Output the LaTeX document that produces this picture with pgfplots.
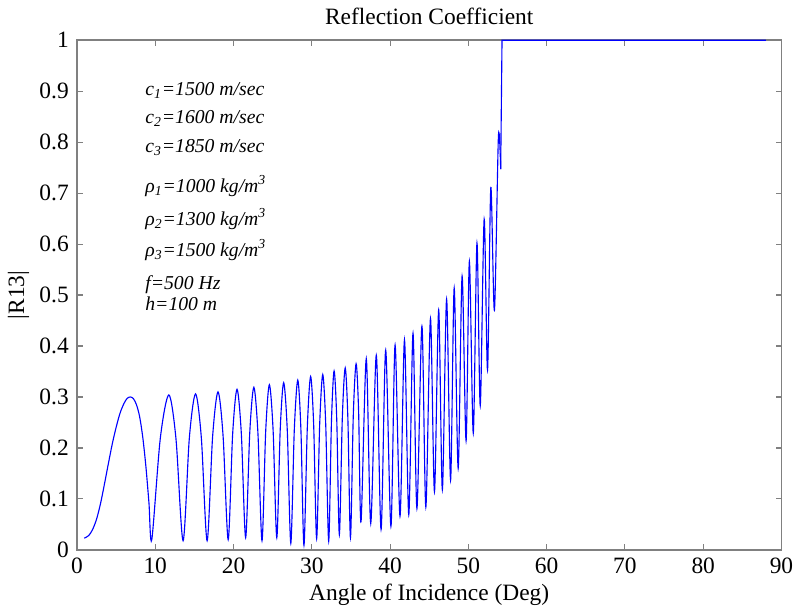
\documentclass[border=0pt]{standalone}
\usepackage{fontspec}
\setmainfont{Liberation Serif}
\usepackage{pgfplots}
\pgfplotsset{compat=1.18}

\definecolor{axgray}{gray}{0.5}

\begin{document}
\fontsize{12.5}{15}\selectfont
\begin{tikzpicture}
\begin{axis}[
  scale only axis,
  width=376pt, height=272pt,
  xmin=0, xmax=90, ymin=0, ymax=1,
  xtick={0,10,20,30,40,50,60,70,80,90},
  ytick={0,0.1,0.2,0.3,0.4,0.5,0.6,0.7,0.8,0.9,1},
  yticklabel style={/pgf/number format/fixed, /pgf/number format/precision=1},
  /pgf/number format/assume math mode=true,
  tick align=inside,
  major tick length=3pt,
  axis line style={draw=axgray, line width=0.8pt},
  major tick style={draw=axgray, line width=0.6pt},
  ticklabel style={font=\fontsize{12.5}{15}\selectfont},
  title={Reflection Coefficient},
  title style={yshift=-2pt},
  xlabel={Angle of Incidence (Deg)},
  xlabel style={yshift=3pt},
  ylabel={|R13|},
  ylabel style={yshift=-3pt},
  clip=false,
]
% oscillating part
\addplot[blue, line width=0.6pt, smooth, tension=0.5] coordinates {
(0.93,0.023) (1.50,0.028) (2.00,0.040) (2.50,0.060) (3.00,0.090)
(3.50,0.128) (4.00,0.168) (4.50,0.207) (5.00,0.240) (5.50,0.268)
(6.00,0.287) (6.40,0.297) (6.80,0.300) (7.20,0.297) (7.60,0.285)
(8.00,0.262) (8.40,0.222) (8.80,0.165) (9.20,0.092) (9.56,0.020)
(10.65,0.219) (11.74,0.304) (12.65,0.218) (13.56,0.018)
(14.36,0.220) (15.15,0.306) (15.89,0.220) (16.63,0.018)
(17.33,0.222) (18.02,0.310) (18.67,0.223) (19.32,0.020)
(19.89,0.227) (20.45,0.315) (21.00,0.228) (21.55,0.024)
(22.08,0.231) (22.60,0.319) (23.12,0.229) (23.64,0.018)
(24.11,0.232) (24.58,0.324) (25.06,0.234) (25.53,0.024)
(25.97,0.237) (26.41,0.328) (26.87,0.234) (27.32,0.013)
(27.77,0.237) (28.21,0.333) (28.61,0.236) (29.00,0.009)
(29.43,0.241) (29.85,0.340) (30.24,0.245) (30.62,0.022)
(31.01,0.247) (31.40,0.344) (31.78,0.246) (32.16,0.017)
(32.51,0.251) (32.85,0.351) (33.19,0.255) (33.52,0.030)
(33.90,0.259) (34.27,0.357) (34.61,0.257) (34.94,0.024)
(35.30,0.263) (35.66,0.365) (35.98,0.272) (36.29,0.055)
(36.96,0.375) (37.53,0.052)
(38.24,0.382) (38.85,0.040)
(39.44,0.392) (40.11,0.046)
(40.64,0.402) (41.27,0.066)
(41.84,0.412) (42.39,0.069)
(42.93,0.425) (43.43,0.081)
(44.07,0.439) (44.57,0.084)
(45.16,0.454) (45.67,0.114)
(46.21,0.471) (46.68,0.118)
(47.22,0.492) (47.73,0.137)
(48.19,0.514) (48.70,0.160)
(49.20,0.537) (49.71,0.214)
(50.13,0.566) (50.63,0.229)
(51.10,0.602) (51.52,0.283)
(52.02,0.649) (52.45,0.353)
(52.87,0.711) (53.33,0.470)
(53.84,0.811) (54.13,0.747)
};
% total reflection beyond the critical angle
\addplot[blue, line width=0.6pt] coordinates {
(54.13,0.747) (54.30,1) (88,1)
};

\begin{scope}[every node/.style={anchor=west, font=\fontsize{10.5}{12}\selectfont\itshape}]
\node at (axis cs:7.7,0.901) {c\textsubscript{1}=1500 m/sec};
\node at (axis cs:7.7,0.846) {c\textsubscript{2}=1600 m/sec};
\node at (axis cs:7.7,0.790) {c\textsubscript{3}=1850 m/sec};
\node at (axis cs:7.7,0.714) {ρ\textsubscript{1}=1000 kg/m\textsuperscript{3}};
\node at (axis cs:7.7,0.649) {ρ\textsubscript{2}=1300 kg/m\textsuperscript{3}};
\node at (axis cs:7.7,0.588) {ρ\textsubscript{3}=1500 kg/m\textsuperscript{3}};
\node at (axis cs:7.7,0.520) {f=500 Hz};
\node at (axis cs:7.7,0.483) {h=100 m};
\end{scope}
\end{axis}
\end{tikzpicture}
\end{document}
